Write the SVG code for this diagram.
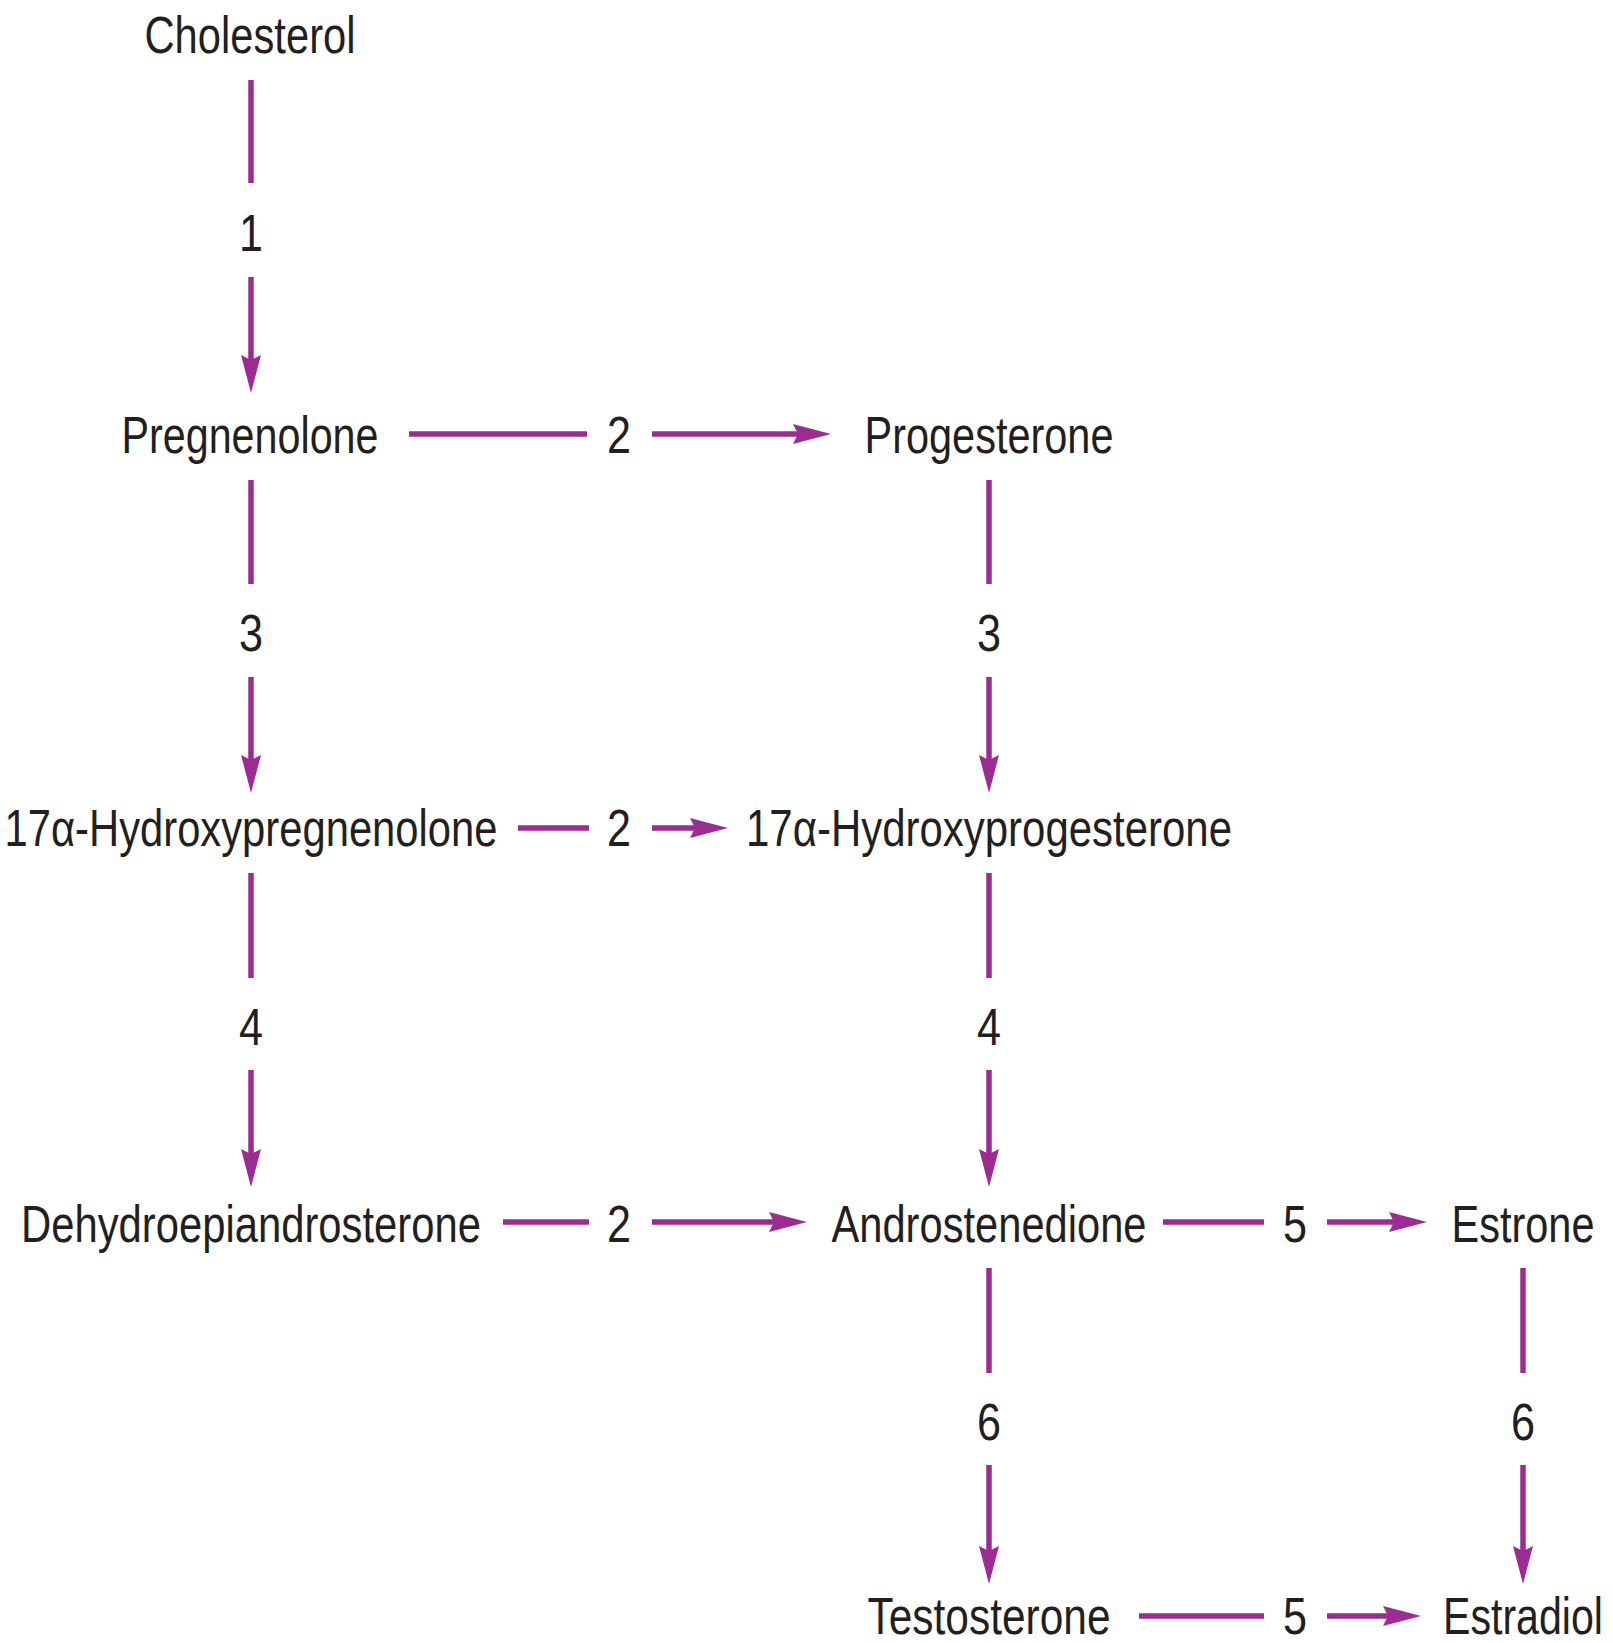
<svg xmlns="http://www.w3.org/2000/svg" width="1613" height="1643" viewBox="0 0 1613 1643">
<style>
  text { font-family: "Liberation Sans", Arial, sans-serif; font-size: 52px; fill: #231f20; text-anchor: middle; }
  .c { stroke: #9c2b94; stroke-width: 5.5; fill: none; }
  .a { stroke: #9c2b94; stroke-width: 5.5; fill: none; marker-end: url(#ah); }
</style>
<defs>
  <marker id="ah" markerUnits="userSpaceOnUse" viewBox="0 0 38 20" markerWidth="38" markerHeight="20" refX="18" refY="10" orient="auto">
    <path d="M0,0 L38,10 L0,20 L5,10 z" fill="#9c2b94"/>
  </marker>
</defs>
<rect width="1613" height="1643" fill="#ffffff"/>
<g id="nodes">
  <g id="cholesterol"><text x="250" y="53" textLength="211" lengthAdjust="spacingAndGlyphs">Cholesterol</text></g>
  <g id="pregnenolone"><text x="250" y="453" textLength="257" lengthAdjust="spacingAndGlyphs">Pregnenolone</text></g>
  <g id="progesterone"><text x="989" y="453" textLength="249" lengthAdjust="spacingAndGlyphs">Progesterone</text></g>
  <g id="hydroxypregnenolone"><text x="251" y="846" textLength="493" lengthAdjust="spacingAndGlyphs">17α-Hydroxypregnenolone</text></g>
  <g id="hydroxyprogesterone"><text x="989" y="846" textLength="486" lengthAdjust="spacingAndGlyphs">17α-Hydroxyprogesterone</text></g>
  <g id="dhea"><text x="251" y="1242" textLength="460" lengthAdjust="spacingAndGlyphs">Dehydroepiandrosterone</text></g>
  <g id="androstenedione"><text x="989" y="1242" textLength="315" lengthAdjust="spacingAndGlyphs">Androstenedione</text></g>
  <g id="estrone"><text x="1523" y="1242" textLength="143" lengthAdjust="spacingAndGlyphs">Estrone</text></g>
  <g id="testosterone"><text x="989" y="1634" textLength="243" lengthAdjust="spacingAndGlyphs">Testosterone</text></g>
  <g id="estradiol"><text x="1523" y="1634" textLength="160" lengthAdjust="spacingAndGlyphs">Estradiol</text></g>
</g>
<g id="connectors">
  <line class="c" x1="251" y1="80" x2="251" y2="183"/>
  <text x="251" y="251" textLength="24" lengthAdjust="spacingAndGlyphs">1</text>
  <line class="a" x1="251" y1="277" x2="251" y2="373"/>

  <line class="c" x1="251" y1="480" x2="251" y2="584"/>
  <text x="251" y="651" textLength="24" lengthAdjust="spacingAndGlyphs">3</text>
  <line class="a" x1="251" y1="677" x2="251" y2="773"/>

  <line class="c" x1="989" y1="480" x2="989" y2="584"/>
  <text x="989" y="651" textLength="24" lengthAdjust="spacingAndGlyphs">3</text>
  <line class="a" x1="989" y1="677" x2="989" y2="773"/>

  <line class="c" x1="251" y1="873" x2="251" y2="978"/>
  <text x="251" y="1045" textLength="24" lengthAdjust="spacingAndGlyphs">4</text>
  <line class="a" x1="251" y1="1070" x2="251" y2="1167"/>

  <line class="c" x1="989" y1="873" x2="989" y2="978"/>
  <text x="989" y="1045" textLength="24" lengthAdjust="spacingAndGlyphs">4</text>
  <line class="a" x1="989" y1="1070" x2="989" y2="1167"/>

  <line class="c" x1="989" y1="1268" x2="989" y2="1373"/>
  <text x="989" y="1440" textLength="24" lengthAdjust="spacingAndGlyphs">6</text>
  <line class="a" x1="989" y1="1465" x2="989" y2="1564"/>

  <line class="c" x1="1523" y1="1268" x2="1523" y2="1373"/>
  <text x="1523" y="1440" textLength="24" lengthAdjust="spacingAndGlyphs">6</text>
  <line class="a" x1="1523" y1="1465" x2="1523" y2="1564"/>

  <line class="c" x1="409" y1="434" x2="587" y2="434"/>
  <text x="619" y="453" textLength="24" lengthAdjust="spacingAndGlyphs">2</text>
  <line class="a" x1="652" y1="434" x2="811" y2="434"/>

  <line class="c" x1="518" y1="828" x2="589" y2="828"/>
  <text x="619" y="846" textLength="24" lengthAdjust="spacingAndGlyphs">2</text>
  <line class="a" x1="652" y1="828" x2="708" y2="828"/>

  <line class="c" x1="503" y1="1222" x2="589" y2="1222"/>
  <text x="619" y="1242" textLength="24" lengthAdjust="spacingAndGlyphs">2</text>
  <line class="a" x1="652" y1="1222" x2="787" y2="1222"/>

  <line class="c" x1="1163" y1="1222" x2="1264" y2="1222"/>
  <text x="1295" y="1242" textLength="24" lengthAdjust="spacingAndGlyphs">5</text>
  <line class="a" x1="1327" y1="1222" x2="1407" y2="1222"/>

  <line class="c" x1="1139" y1="1616" x2="1264" y2="1616"/>
  <text x="1295" y="1634" textLength="24" lengthAdjust="spacingAndGlyphs">5</text>
  <line class="a" x1="1327" y1="1616" x2="1401" y2="1616"/>
</g>
</svg>
